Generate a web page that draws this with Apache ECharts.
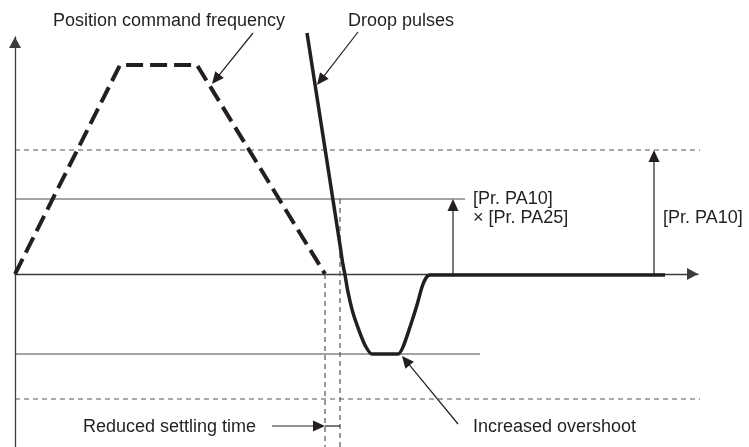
<!DOCTYPE html>
<html>
<head>
<meta charset="utf-8">
<script src="https://cdn.jsdelivr.net/npm/echarts@6/dist/echarts.min.js"></script>
<style>
html,body{margin:0;padding:0;background:#fff;}
#chart{width:749px;height:447px;}
</style>
</head>
<body>
<div id="chart"></div>
<script>
// Units: time along x (0 = vertical axis), amplitude along y (0 = time axis)
const positionCommand = [[0,0],[105,209],[182,209],[310,0]];
const droopPulses = [[292,241],[325,29],[327.5,12],[330,-1],[333,-18],[338,-39],[345,-59],[351,-73],[357,-80],
  [383,-80],[388,-73],[395,-53],[402,-31],[407,-13],[411,-4],[415,-1],[650,-1]];
const levelPA10 = 124;        // [Pr. PA10]
const levelPA10xPA25 = 75;    // [Pr. PA10] x [Pr. PA25]
const levelOvershoot = -80;
const levelNegPA10 = -125;
const upperDashed = [[0,levelPA10],[688,levelPA10]];
const pa25Line = [[0,levelPA10xPA25],[450,levelPA10xPA25]];
const overshootLine = [[0,levelOvershoot],[465,levelOvershoot]];
const lowerDashed = [[0,levelNegPA10],[688,levelNegPA10]];
const cmdEndLine = [[310,0],[310,-173]];
const settleEndLine = [[325,levelPA10xPA25],[325,-173]];
const settleTail = [[310,-152],[325,-152]];
// arrows: [x1, y1, x2(tip), y2(tip)]
const arrows = [
  [238,241,197,190],
  [343,242,302,189],
  [438,0,438,levelPA10xPA25],
  [639,0,639,levelPA10],
  [257,-152,310,-152],
  [443,-150,387,-82]
];
const labels = ['Position command frequency','Droop pulses','[Pr. PA10]','× [Pr. PA25]','[Pr. PA10]','Reduced settling time','Increased overshoot'];
const labelPos = [[38,253],[333,253],[458,75],[458,56],[648,56],[68,-153],[458,-153]];

const INK = '#231f20';
const THIN = '#4a4a4a';
const FONT = '18px "Liberation Sans", Arial, sans-serif';

function lineSeries(data, style, z) {
  return {type:'line', data, symbol:'none', showSymbol:false, clip:false, silent:true,
    lineStyle:Object.assign({color:THIN, width:1.2}, style), z:z||2, animation:false};
}

const chart = echarts.init(document.getElementById('chart'), null, {renderer:'canvas'});
chart.setOption({
  animation:false,
  grid:{left:15, right:51, top:37, bottom:0, containLabel:false},
  xAxis:{type:'value', min:0, max:683, axisLabel:{show:false}, axisTick:{show:false}, splitLine:{show:false},
    axisLine:{onZero:true, lineStyle:{color:'#3d3d3d', width:1.3}, symbol:['none','triangle'], symbolSize:[12,11], symbolOffset:[0,-5.5]}},
  yAxis:{type:'value', min:-173, max:237, axisLabel:{show:false}, axisTick:{show:false}, splitLine:{show:false},
    axisLine:{onZero:false, lineStyle:{color:'#3d3d3d', width:1.3}, symbol:['none','triangle'], symbolSize:[12,11], symbolOffset:[0,-5.5]}},
  series:[
    lineSeries(upperDashed,{type:[5,4], color:'#555'}),
    lineSeries(lowerDashed,{type:[5,4], color:'#555'}),
    lineSeries(pa25Line,{}),
    lineSeries(overshootLine,{}),
    lineSeries(cmdEndLine,{type:[5,4], color:'#555'}),
    lineSeries(settleEndLine,{type:[5,4], color:'#555'}),
    lineSeries(settleTail,{color:INK}),
    lineSeries(positionCommand,{type:[17,7], width:4, color:INK, cap:'butt', join:'miter'},5),
    Object.assign(lineSeries(droopPulses,{width:3.5, color:INK, join:'round'},6),{smooth:0.25}),
    {type:'custom', data:arrows, clip:false, silent:true, z:7,
      renderItem:function(params, api){
        const p1 = api.coord([api.value(0), api.value(1)]);
        const p2 = api.coord([api.value(2), api.value(3)]);
        const dx = p2[0]-p1[0], dy = p2[1]-p1[1], len = Math.hypot(dx,dy);
        const ux = dx/len, uy = dy/len, L = 12, W = 5.5;
        const b = [p2[0]-ux*L, p2[1]-uy*L];
        return {type:'group', children:[
          {type:'line', shape:{x1:p1[0],y1:p1[1],x2:b[0]+ux*2,y2:b[1]+uy*2}, style:{stroke:INK, lineWidth:1.2}},
          {type:'polygon', shape:{points:[p2,[b[0]-uy*W,b[1]+ux*W],[b[0]+uy*W,b[1]-ux*W]]}, style:{fill:INK}}
        ]};
      }},
    {type:'custom', data:labelPos, clip:false, silent:true, z:8,
      renderItem:function(params, api){
        const p = api.coord([api.value(0), api.value(1)]);
        return {type:'text', x:p[0], y:p[1], style:{text:labels[params.dataIndex], fill:INK, font:FONT, align:'left', verticalAlign:'middle'}};
      }}
  ]
});
</script>
</body>
</html>
